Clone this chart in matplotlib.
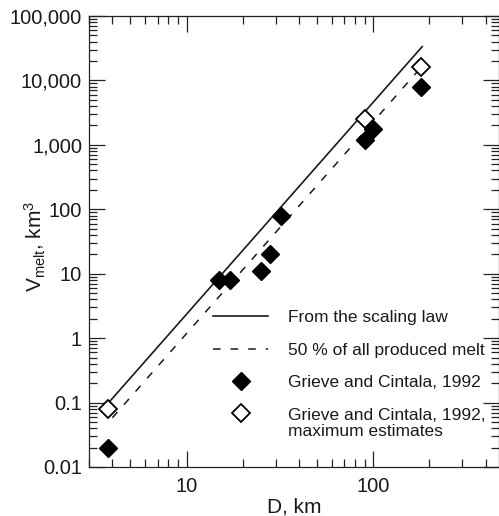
import numpy as np
import matplotlib
matplotlib.use('Agg')
import matplotlib.pyplot as plt
from matplotlib.ticker import FixedLocator, FixedFormatter, LogLocator, NullFormatter

plt.rcParams['font.family'] = ['Liberation Sans', 'DejaVu Sans']
plt.rcParams['mathtext.fontset'] = 'custom'
plt.rcParams['mathtext.rm'] = 'Liberation Sans'
plt.rcParams['mathtext.it'] = 'Liberation Sans:italic'

# scaling law line and 50 % line (end points)
law_D = [3.85, 183]
law_V = [0.102, 33500]
half_D = [4.0, 180]
half_V = [0.058, 15800]

# Grieve and Cintala, 1992
gc_D = [3.8, 15, 17, 25, 28, 32, 90, 100, 180]
gc_V = [0.02, 8, 8, 11, 20, 80, 1200, 1750, 8000]

# maximum estimates
gcmax_D = [3.8, 90, 180]
gcmax_V = [0.08, 2500, 16000]

ytick_vals = [0.01, 0.1, 1, 10, 100, 1000, 10000, 100000]
ytick_labels = ['0.01', '0.1', '1', '10', '100', '1,000', '10,000', '100,000']
xtick_vals = [10, 100]
xtick_labels = ['10', '100']

fig = plt.figure(figsize=(4.99, 5.16), dpi=100)
ax = fig.add_axes([89/499, 1-467/516, 410/499, 451/516])

ax.plot(law_D, law_V, '-', color='#1a1a1a', lw=1.2, label='From the scaling law')
ax.plot(half_D, half_V, '--', color='#1a1a1a', lw=1.1, dashes=(5, 6.5),
        label='50 % of all produced melt')
ax.plot(gc_D, gc_V, 'D', color='black', ms=9, ls='none',
        label='Grieve and Cintala, 1992')
ax.plot(gcmax_D, gcmax_V, 'D', mfc='white', mec='black', mew=1.3, ms=9, ls='none',
        label='Grieve and Cintala, 1992,\nmaximum estimates')

ax.set_xscale('log')
ax.set_yscale('log')
ax.set_xlim(3, 472)
ax.set_ylim(0.01, 100000)

ax.xaxis.set_major_locator(FixedLocator(xtick_vals))
ax.xaxis.set_major_formatter(FixedFormatter(xtick_labels))
ax.xaxis.set_minor_locator(LogLocator(base=10, subs=np.arange(2, 10)))
ax.xaxis.set_minor_formatter(NullFormatter())
ax.yaxis.set_major_locator(FixedLocator(ytick_vals))
ax.yaxis.set_major_formatter(FixedFormatter(ytick_labels))
ax.yaxis.set_minor_locator(LogLocator(base=10, subs=np.arange(2, 10)))
ax.yaxis.set_minor_formatter(NullFormatter())

ax.tick_params(which='both', direction='in', top=True, right=True, colors='#222222',
               width=0.9)
ax.tick_params(which='major', length=11.5, labelsize=14.5, pad=5, labelcolor='#1a1a1a')
ax.tick_params(which='minor', length=5.5)
ax.tick_params(axis='x', which='major', pad=7)
for s in ax.spines.values():
    s.set_linewidth(0.9)
    s.set_color('#222222')

ax.set_xlabel('D, km', fontsize=15, color='#1a1a1a', labelpad=1)
ax.set_ylabel(r'V$_{\rm melt}$, km$^3$', fontsize=15, color='#1a1a1a')
ax.yaxis.set_label_coords(-0.1, 0.49)

leg = ax.legend(loc='upper left', bbox_to_anchor=(0.302, 0.349), frameon=False,
                fontsize=12.5, numpoints=1, handlelength=3.2, handletextpad=1.15,
                labelspacing=1.02, borderpad=0, borderaxespad=0)
for t in leg.get_texts():
    t.set_color('#1a1a1a')
leg.get_texts()[3].set_linespacing(1.1)
# put the open diamond next to the first line of its two-line label
h = leg.legend_handles[3]
h.set_ydata(np.asarray(h.get_ydata()) + 7.5)

fig.savefig('out.png', dpi=100)
